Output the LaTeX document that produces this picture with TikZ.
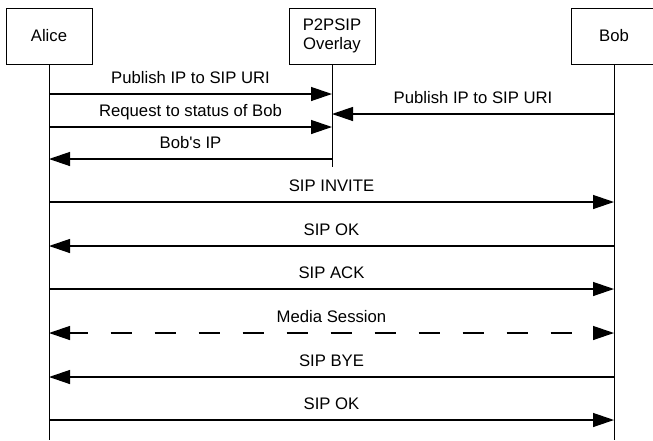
\documentclass[tikz,border=0pt]{standalone}
\usepackage{fontspec}
\setmainfont{Liberation Sans}
\usetikzlibrary{arrows.meta}

\begin{document}
\begin{tikzpicture}[x = 1pt, y = -1pt, > = {Triangle[length = 21pt, width = 14pt]},
	every node/.style = {text = black, font = \fontsize{16.7}{19.5}\selectfont},
	actor/.style = {draw, line width = 1pt, minimum width = 86pt, minimum height = 56pt, align = center, inner sep = 0pt},
	lifeline/.style = {line width = 1pt},
	msg/.style = {line width = 1.3pt, ->},
	tag/.style = {above = 10pt, inner sep = 0pt, text depth = 0pt}]

	\useasboundingbox (0, 0) rectangle (653, 440);

	% Participants

	\node [actor] (alice) at (49, 36) {Alice};
	\node [actor] (overlay) at (332, 36) {P2PSIP\\Overlay};
	\node [actor] (bob) at (614, 36) {Bob};

	% Lifelines

	\coordinate (bottom) at (0, 440);
	\coordinate (stop) at (0, 167);

	\draw [lifeline] (alice) -- (alice |- bottom);
	\draw [lifeline] (overlay) -- (overlay |- stop);
	\draw [lifeline] (bob) -- (bob |- bottom);

	% Message levels

	\coordinate (m1) at (0, 94);
	\coordinate (m2) at (0, 114);
	\coordinate (m3) at (0, 127);
	\coordinate (m4) at (0, 159);
	\coordinate (m5) at (0, 202);
	\coordinate (m6) at (0, 246);
	\coordinate (m7) at (0, 289);
	\coordinate (m8) at (0, 333);
	\coordinate (m9) at (0, 377);
	\coordinate (m10) at (0, 420);

	% Lookup through the overlay

	\draw [msg] (alice |- m1) -- node [tag] {Publish IP to SIP URI} (overlay |- m1);
	\draw [msg] (bob |- m2) -- node [tag] {Publish IP to SIP URI} (overlay |- m2);
	\draw [msg] (alice |- m3) -- node [tag] {Request to status of Bob} (overlay |- m3);
	\draw [msg] (overlay |- m4) -- node [tag] {Bob\textquotesingle s IP} (alice |- m4);

	% SIP dialog

	\draw [msg] (alice |- m5) -- node [tag] {SIP INVITE} (bob |- m5);
	\draw [msg] (bob |- m6) -- node [tag] {SIP OK} (alice |- m6);
	\draw [msg] (alice |- m7) -- node [tag] {SIP ACK} (bob |- m7);
	\draw [msg, <->, dash pattern = on 21pt off 23pt, dash phase = 3pt] (alice |- m8) -- node [tag] {Media Session} (bob |- m8);
	\draw [msg] (bob |- m9) -- node [tag] {SIP BYE} (alice |- m9);
	\draw [msg] (alice |- m10) -- node [tag] {SIP OK} (bob |- m10);

\end{tikzpicture}
\end{document}
